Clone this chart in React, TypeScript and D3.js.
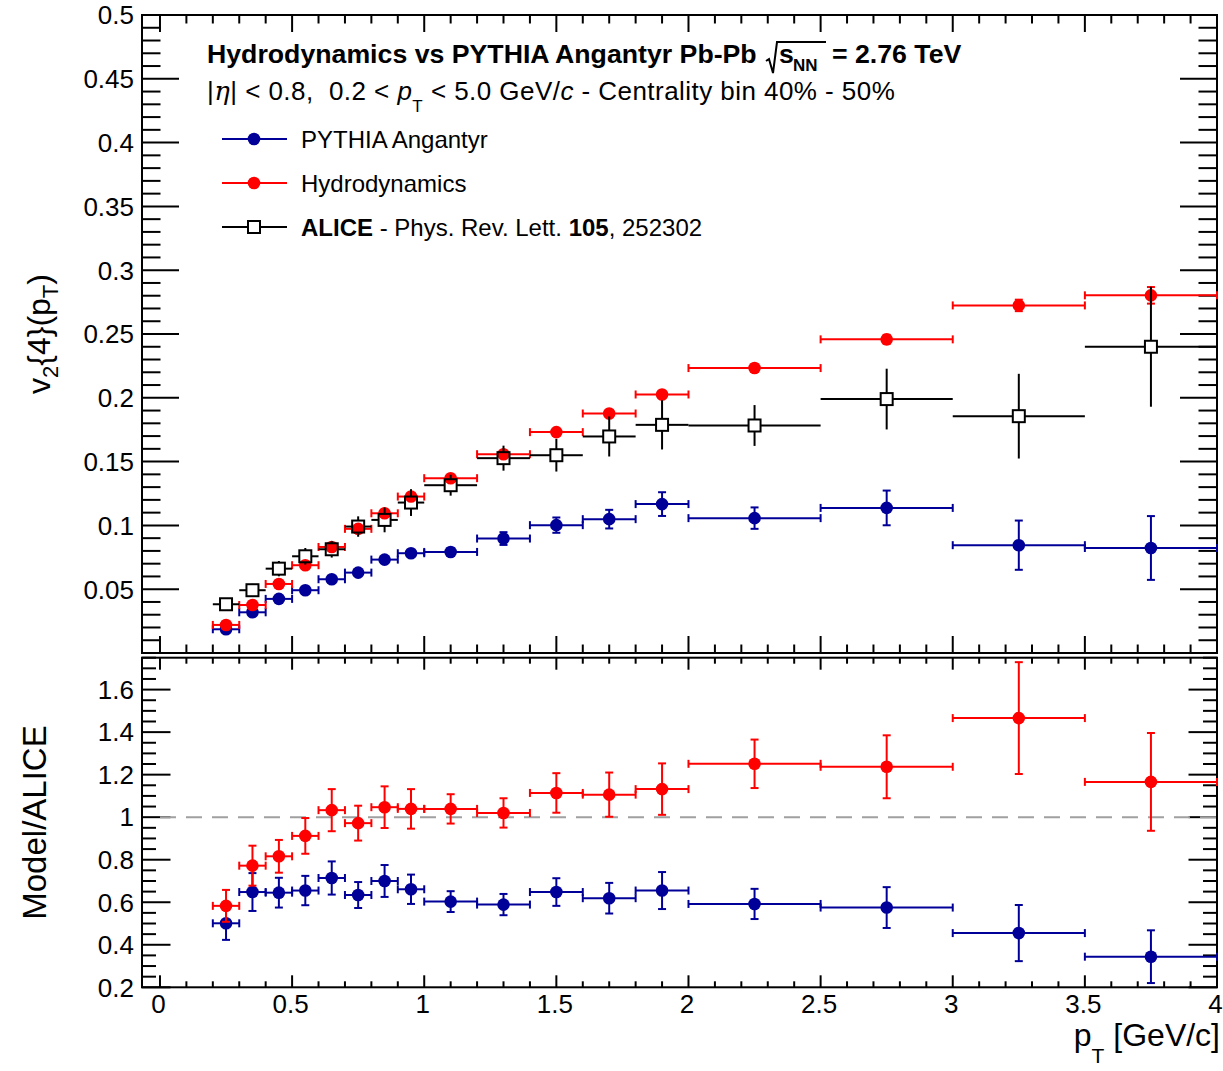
import React from 'react';
import * as d3 from 'd3';

// pT bins (GeV/c)
const ptCenter = [0.25, 0.35, 0.45, 0.55, 0.65, 0.75, 0.85, 0.95, 1.1, 1.3, 1.5, 1.7, 1.9, 2.25, 2.75, 3.25, 3.75];
const ptLow = [0.2, 0.3, 0.4, 0.5, 0.6, 0.7, 0.8, 0.9, 1.0, 1.2, 1.4, 1.6, 1.8, 2.0, 2.5, 3.0, 3.5];
const ptHigh = [0.3, 0.4, 0.5, 0.6, 0.7, 0.8, 0.9, 1.0, 1.2, 1.4, 1.6, 1.8, 2.0, 2.5, 3.0, 3.5, 4.0];

// v2{4}(pT)
const pythiaV2 = [0.0186, 0.0319, 0.0424, 0.0492, 0.0578, 0.063, 0.0732, 0.0782, 0.0792, 0.0897, 0.1002, 0.1049, 0.1167, 0.1057, 0.1137, 0.0845, 0.0823];
const pythiaErr = [0.001, 0.001, 0.0012, 0.0013, 0.0015, 0.0016, 0.0018, 0.002, 0.003, 0.005, 0.006, 0.0073, 0.0093, 0.0084, 0.0136, 0.0193, 0.025];
const hydroV2 = [0.022, 0.0376, 0.0541, 0.0688, 0.0831, 0.0973, 0.1095, 0.1226, 0.137, 0.1558, 0.1731, 0.1877, 0.2026, 0.2233, 0.2458, 0.2724, 0.2803];
const hydroErr = [0.0008, 0.001, 0.001, 0.0012, 0.0013, 0.0014, 0.0015, 0.0016, 0.0017, 0.002, 0.0022, 0.0025, 0.0028, 0.003, 0.0035, 0.0045, 0.0065];
const aliceV2 = [0.0382, 0.0492, 0.0661, 0.0758, 0.0813, 0.0991, 0.1043, 0.1179, 0.1315, 0.1527, 0.155, 0.1697, 0.1788, 0.1783, 0.199, 0.1856, 0.24];
const aliceErr = [0.003, 0.005, 0.006, 0.0065, 0.0065, 0.008, 0.0097, 0.0105, 0.0082, 0.0098, 0.0128, 0.0157, 0.0193, 0.016, 0.0238, 0.0332, 0.047];

// Model / ALICE ratios
const hydroRatio = [0.583, 0.772, 0.816, 0.912, 1.033, 0.972, 1.047, 1.039, 1.039, 1.02, 1.114, 1.106, 1.132, 1.251, 1.237, 1.466, 1.166];
const hydroRatioErr = [0.075, 0.094, 0.077, 0.084, 0.099, 0.082, 0.098, 0.093, 0.069, 0.069, 0.093, 0.104, 0.121, 0.114, 0.148, 0.263, 0.23];
const pythiaRatio = [0.501, 0.648, 0.645, 0.655, 0.714, 0.634, 0.7, 0.661, 0.603, 0.589, 0.648, 0.619, 0.655, 0.592, 0.575, 0.455, 0.344];
const pythiaRatioErr = [0.078, 0.089, 0.07, 0.069, 0.078, 0.061, 0.075, 0.069, 0.049, 0.05, 0.065, 0.072, 0.087, 0.071, 0.096, 0.132, 0.124];

// Axis ticks
const xTickLabels = [0, 0.5, 1, 1.5, 2, 2.5, 3, 3.5, 4];
const topYTickLabels = [0.05, 0.1, 0.15, 0.2, 0.25, 0.3, 0.35, 0.4, 0.45, 0.5];
const botYTickLabels = [0.2, 0.4, 0.6, 0.8, 1, 1.2, 1.4, 1.6];

const FONT = '"Liberation Sans", Arial, Helvetica, sans-serif';
const BLUE = '#000099';
const RED = '#ff0000';

const LEFT = 142;
const RIGHT = 1217;
const TOP_T = 15;
const TOP_B = 653;
const BOT_T = 657.7;
const BOT_B = 987.3;

const x = d3.scaleLinear().domain([-0.068, 4]).range([LEFT, RIGHT]);
const yTop = d3.scaleLinear().domain([0, 0.5]).range([TOP_B, TOP_T]);
const yBot = d3.scaleLinear().domain([0.2, 1.75]).range([BOT_B, BOT_T]);

const rnd = (v: number) => Math.round(v * 1000) / 1000;
const steps = (a: number, b: number, s: number) => d3.range(0, Math.round((b - a) / s) + 1).map((i) => rnd(a + i * s));

function Frame({ y0, y1, yScale, yMajor, yMinor, yMajLen, yMinLen, xMajLen, xMinLen }: any) {
  const xMajor = steps(0, 4, 0.5);
  const xMinor = steps(0, 4, 0.1);
  return (
    <g stroke="black" strokeWidth={2} fill="none">
      <rect x={LEFT} y={y0} width={RIGHT - LEFT} height={y1 - y0} />
      {yMinor.map((v: number) => {
        const len = yMajor.includes(v) ? yMajLen : yMinLen;
        const yy = yScale(v);
        return (
          <g key={'y' + v}>
            <line x1={LEFT} x2={LEFT + len} y1={yy} y2={yy} />
            <line x1={RIGHT} x2={RIGHT - len} y1={yy} y2={yy} />
          </g>
        );
      })}
      {xMinor.map((v: number) => {
        const len = xMajor.includes(v) ? xMajLen : xMinLen;
        const xx = x(v);
        return (
          <g key={'x' + v}>
            <line x1={xx} x2={xx} y1={y1} y2={y1 - len} />
            <line x1={xx} x2={xx} y1={y0} y2={y0 + len} />
          </g>
        );
      })}
    </g>
  );
}

function CapSeries({ yScale, vals, errs, color }: any) {
  return (
    <g>
      <g stroke={color} strokeWidth={2} fill="none">
        {vals.map((v: number, i: number) => {
          const cx = x(ptCenter[i]);
          const cy = yScale(v);
          const x0 = x(ptLow[i]);
          const x1 = x(ptHigh[i]);
          const ya = yScale(v + errs[i]);
          const yb = yScale(v - errs[i]);
          return (
            <g key={i}>
              <line x1={x0} x2={x1} y1={cy} y2={cy} />
              <line x1={x0} x2={x0} y1={cy - 4} y2={cy + 4} />
              <line x1={x1} x2={x1} y1={cy - 4} y2={cy + 4} />
              <line x1={cx} x2={cx} y1={ya} y2={yb} />
              <line x1={cx - 4} x2={cx + 4} y1={ya} y2={ya} />
              <line x1={cx - 4} x2={cx + 4} y1={yb} y2={yb} />
            </g>
          );
        })}
      </g>
      <g fill={color}>
        {vals.map((v: number, i: number) => (
          <circle key={i} cx={x(ptCenter[i])} cy={yScale(v)} r={6.3} />
        ))}
      </g>
    </g>
  );
}

function OpenSquareSeries({ yScale, vals, errs }: any) {
  const h = 6;
  return (
    <g stroke="black" strokeWidth={2} fill="none">
      {vals.map((v: number, i: number) => {
        const cx = x(ptCenter[i]);
        const cy = yScale(v);
        const x0 = x(ptLow[i]);
        const x1 = x(ptHigh[i]);
        const ya = yScale(v + errs[i]);
        const yb = yScale(v - errs[i]);
        return (
          <g key={i}>
            <line x1={x0} x2={cx - h} y1={cy} y2={cy} />
            <line x1={cx + h} x2={x1} y1={cy} y2={cy} />
            {ya < cy - h && <line x1={cx} x2={cx} y1={ya} y2={cy - h} />}
            {yb > cy + h && <line x1={cx} x2={cx} y1={cy + h} y2={yb} />}
            <rect x={cx - h} y={cy - h} width={2 * h} height={2 * h} />
          </g>
        );
      })}
    </g>
  );
}

function Legend() {
  const rows = [
    { y: 139, color: BLUE, kind: 'circle' },
    { y: 183, color: RED, kind: 'circle' },
    { y: 227, color: 'black', kind: 'square' },
  ];
  return (
    <g>
      {rows.map((r) => (
        <g key={r.y}>
          {r.kind === 'circle' ? (
            <g>
              <line x1={222} x2={287} y1={r.y} y2={r.y} stroke={r.color} strokeWidth={2} />
              <circle cx={254} cy={r.y} r={6.3} fill={r.color} />
            </g>
          ) : (
            <g stroke="black" strokeWidth={2} fill="none">
              <line x1={222} x2={248} y1={r.y} y2={r.y} />
              <line x1={260} x2={287} y1={r.y} y2={r.y} />
              <rect x={248} y={r.y - 6} width={12} height={12} />
            </g>
          )}
        </g>
      ))}
      <g fontFamily={FONT} fontSize={24} fill="black">
        <text x={301} y={147.5}>PYTHIA Angantyr</text>
        <text x={301} y={191.5}>Hydrodynamics</text>
        <text x={301} y={235.5} style={{ whiteSpace: 'pre' }}>
          <tspan fontWeight="bold">ALICE</tspan>
          <tspan> - Phys. Rev. Lett. </tspan>
          <tspan fontWeight="bold">105</tspan>
          <tspan>, 252302</tspan>
        </text>
      </g>
    </g>
  );
}

export default function App() {
  const topMinor = steps(0, 0.5, 0.01);
  const topMajor = steps(0, 0.5, 0.05);
  const botMinor = steps(0.2, 1.75, 0.05);
  const botMajor = steps(0.2, 1.6, 0.2);
  return (
    <svg width={1223} height={1071} style={{ position: 'absolute', left: 0, top: 0, background: 'white' }}>
      <rect x={0} y={0} width={1223} height={1071} fill="white" />

      {/* upper pad: v2{4} vs pT */}
      <Frame y0={TOP_T} y1={TOP_B} yScale={yTop} yMajor={topMajor} yMinor={topMinor}
        yMajLen={37} yMinLen={18.5} xMajLen={17} xMinLen={8.5} />
      <CapSeries yScale={yTop} vals={pythiaV2} errs={pythiaErr} color={BLUE} />
      <CapSeries yScale={yTop} vals={hydroV2} errs={hydroErr} color={RED} />
      <OpenSquareSeries yScale={yTop} vals={aliceV2} errs={aliceErr} />

      {/* lower pad: ratio to data */}
      <Frame y0={BOT_T} y1={BOT_B} yScale={yBot} yMajor={botMajor} yMinor={botMinor}
        yMajLen={28.5} yMinLen={14} xMajLen={12} xMinLen={6} />
      <line x1={x(0)} x2={x(4)} y1={yBot(1)} y2={yBot(1)} stroke="#a0a0a0" strokeWidth={2} strokeDasharray="16 10" />
      <CapSeries yScale={yBot} vals={pythiaRatio} errs={pythiaRatioErr} color={BLUE} />
      <CapSeries yScale={yBot} vals={hydroRatio} errs={hydroRatioErr} color={RED} />

      {/* tick labels */}
      <g fontFamily={FONT} fontSize={26} fill="black">
        {topYTickLabels.map((v) => (
          <text key={'t' + v} x={134} y={yTop(v) + 9.3} textAnchor="end">{String(v)}</text>
        ))}
        {botYTickLabels.map((v) => (
          <text key={'b' + v} x={134} y={yBot(v) + 9.3} textAnchor="end">{String(v)}</text>
        ))}
        {xTickLabels.map((v) => (
          <text key={'x' + v} x={x(v) - 1.5} y={1013} textAnchor="middle">{String(v)}</text>
        ))}
      </g>

      {/* axis titles */}
      <g fontFamily={FONT} fill="black">
        <text x={1220} y={1046} textAnchor="end" fontSize={32} style={{ whiteSpace: 'pre' }}>
          <tspan>p</tspan>
          <tspan fontSize={21} dy={17}>T</tspan>
          <tspan dy={-17}> [GeV/c]</tspan>
        </text>
        <text transform={`translate(50, ${(TOP_T + TOP_B) / 2}) rotate(-90)`} textAnchor="middle" fontSize={32}>
          <tspan>v</tspan>
          <tspan fontSize={22} dy={8}>2</tspan>
          <tspan dy={-8}>{'{4}(p'}</tspan>
          <tspan fontSize={22} dy={8}>T</tspan>
          <tspan dy={-8}>)</tspan>
        </text>
        <text transform={`translate(46, ${(BOT_T + BOT_B) / 2}) rotate(-90)`} textAnchor="middle" fontSize={33}>
          Model/ALICE
        </text>
      </g>

      {/* header */}
      <g fontFamily={FONT} fill="black">
        <text x={207} y={63.3} fontSize={26.7} fontWeight="bold">Hydrodynamics vs PYTHIA Angantyr Pb-Pb</text>
        <path d="M 766 61 L 769 59 L 773 73 L 777 42 L 826 42" stroke="black" strokeWidth={2} fill="none" />
        <text x={779} y={63.3} fontSize={26.7} fontWeight="bold">s</text>
        <text x={793} y={71} fontSize={17} fontWeight="bold">NN</text>
        <text x={832} y={63.3} fontSize={26.7} fontWeight="bold">= 2.76 TeV</text>
        <text x={207} y={100} fontSize={26} letterSpacing={0.45} style={{ whiteSpace: 'pre' }}>
          <tspan>|</tspan>
          <tspan fontFamily='"DejaVu Serif", serif' fontStyle="italic">η</tspan>
          <tspan>{'| < 0.8,  0.2 < '}</tspan>
          <tspan fontStyle="italic">p</tspan>
          <tspan fontSize={17} dy={12}>T</tspan>
          <tspan dy={-12}>{' < 5.0 GeV/'}</tspan>
          <tspan fontStyle="italic">c</tspan>
          <tspan>{' - Centrality bin 40% - 50%'}</tspan>
        </text>
      </g>

      <Legend />
    </svg>
  );
}
